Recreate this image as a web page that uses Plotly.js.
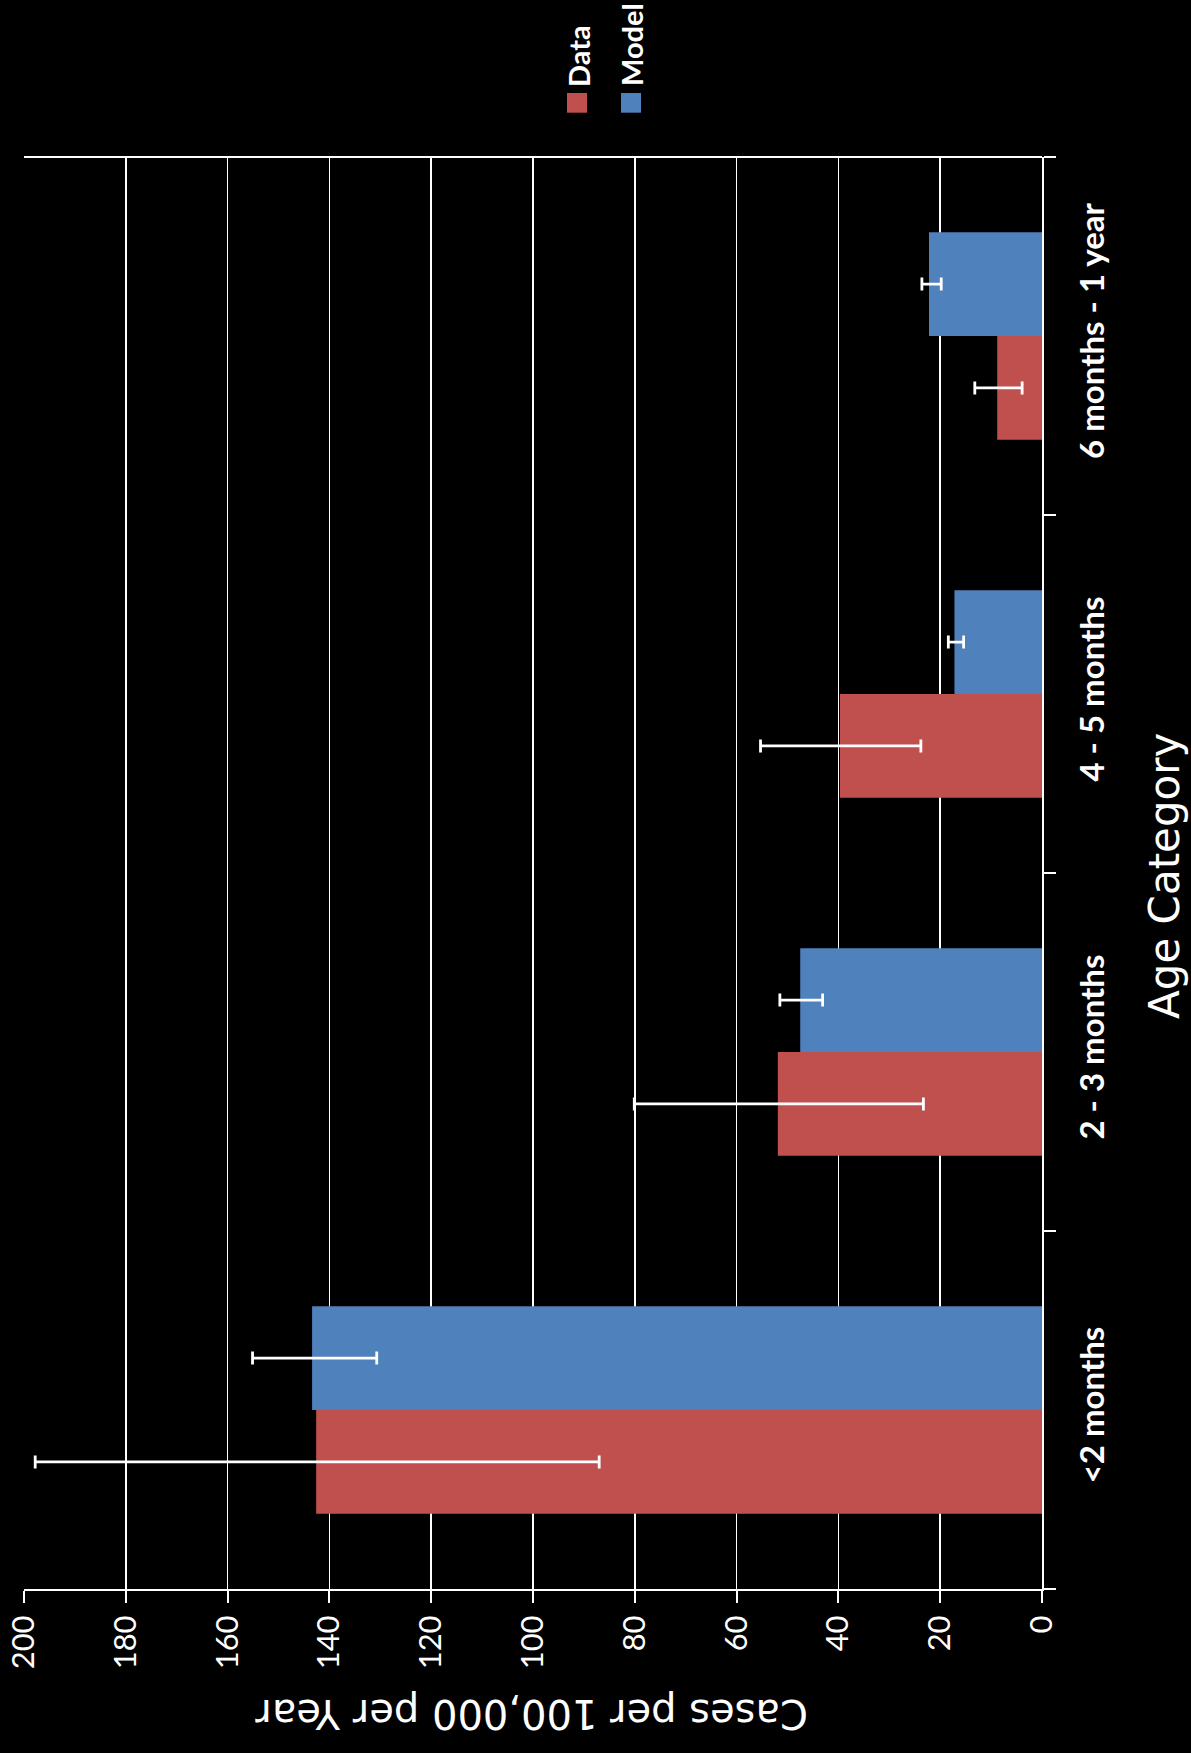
<!DOCTYPE html>
<html>
<head>
<meta charset="utf-8">
<script src="https://cdn.plot.ly/plotly-3.0.1.min.js"></script>
<style>
  html, body { margin: 0; padding: 0; background: #000; }
  #chart { width: 1191px; height: 1753px; }
</style>
</head>
<body>
<div id="chart"></div>
<script>
// Age categories (bottom to top)
const categories = ['<2 months', '2 - 3 months', '4 - 5 months', '6 months - 1 year'];

// Observed incidence with its interval
const dataValues = [142.6, 51.9, 39.7, 8.8];
const dataLower  = [87.0, 23.3, 23.8, 3.9];
const dataUpper  = [197.8, 80.1, 55.3, 13.2];

// Modelled incidence with its interval
const modelValues = [143.4, 47.5, 17.2, 22.2];
const modelLower  = [130.7, 43.1, 15.4, 19.8];
const modelUpper  = [155.1, 51.5, 18.4, 23.6];

const valueTicks = [0, 20, 40, 60, 80, 100, 120, 140, 160, 180, 200];

const W = 1191, H = 1753;
const M = { l: 24, r: 149, t: 157, b: 164 };
const plotW = W - M.l - M.r, plotH = H - M.t - M.b;
const px = x => (x - M.l) / plotW;
const py = y => (H - M.b - y) / plotH;

const RED = '#C0504D', BLUE = '#4F81BD';

function errBar(vals, lo, hi) {
  return {
    type: 'data', symmetric: false,
    array: hi.map((h, i) => h - vals[i]),
    arrayminus: lo.map((l, i) => vals[i] - l),
    color: '#ffffff', thickness: 2.8, width: 6.5, visible: true
  };
}

const traces = [
  {
    type: 'bar', orientation: 'h', name: 'Data',
    y: categories, x: dataValues,
    marker: { color: RED, line: { width: 0 } },
    error_x: errBar(dataValues, dataLower, dataUpper),
    hoverinfo: 'skip'
  },
  {
    type: 'bar', orientation: 'h', name: 'Model',
    y: categories, x: modelValues,
    marker: { color: BLUE, line: { width: 0 } },
    error_x: errBar(modelValues, modelLower, modelUpper),
    hoverinfo: 'skip'
  }
];

const legendItems = [
  { label: 'Data', color: RED, cx: 577, textCy: 56 },
  { label: 'Model', color: BLUE, cx: 631, textCy: 45 }
];

const shapes = [];
const annotations = [];

legendItems.forEach(it => {
  shapes.push({
    type: 'rect', xref: 'paper', yref: 'paper',
    x0: px(it.cx - 10), x1: px(it.cx + 10),
    y0: py(112.7), y1: py(93),
    fillcolor: it.color, line: { width: 0 }
  });
  annotations.push({
    text: '<b>' + it.label + '</b>', textangle: -90, showarrow: false,
    xref: 'paper', yref: 'paper', x: px(it.cx + 1), y: py(it.textCy),
    xanchor: 'center', yanchor: 'middle',
    font: { family: 'Lato, sans-serif', size: 29, color: '#ffffff' }
  });
});

// top border of the plot
shapes.push({
  type: 'line', xref: 'paper', yref: 'paper',
  x0: 0, x1: 1, y0: 1, y1: 1,
  line: { color: '#ffffff', width: 2 }
});

annotations.push({
  text: 'Cases per 100,000 per Year', textangle: 180, showarrow: false,
  xref: 'paper', yref: 'paper', x: px(531.5), y: py(1714),
  xanchor: 'center', yanchor: 'middle',
  font: { family: 'DejaVu Sans, sans-serif', size: 40, color: '#ffffff' }
});
annotations.push({
  text: 'Age Category', textangle: -90, showarrow: false,
  xref: 'paper', yref: 'paper', x: px(1164), y: py(876),
  xanchor: 'center', yanchor: 'middle',
  font: { family: 'DejaVu Sans, sans-serif', size: 42, color: '#ffffff' }
});

const layout = {
  width: W, height: H,
  margin: M,
  paper_bgcolor: '#000000', plot_bgcolor: '#000000',
  showlegend: false,
  barmode: 'group', bargap: 0.42, bargroupgap: 0,
  xaxis: {
    range: [200, 0], tickvals: valueTicks, ticktext: valueTicks.map(String),
    showgrid: true, gridcolor: '#ffffff', gridwidth: 1.6,
    showline: true, linecolor: '#ffffff', linewidth: 2,
    ticks: 'outside', ticklen: 12, tickwidth: 2, tickcolor: '#ffffff',
    tickangle: -90,
    tickfont: { family: 'Lato, sans-serif', size: 31, color: '#ffffff' },
    zeroline: false, fixedrange: true
  },
  yaxis: {
    type: 'category', categoryorder: 'array', categoryarray: categories,
    side: 'right', showgrid: false, zeroline: false,
    showline: true, linecolor: '#ffffff', linewidth: 2,
    ticks: 'outside', ticklen: 12, tickwidth: 2, tickcolor: '#ffffff',
    tickson: 'boundaries', tickangle: -90, ticklabelstandoff: 20,
    tickfont: { family: 'Lato, sans-serif', size: 33, color: '#ffffff', weight: 'bold' },
    fixedrange: true
  },
  shapes: shapes,
  annotations: annotations
};

Plotly.newPlot('chart', traces, layout, { staticPlot: true, displayModeBar: false });
</script>
</body>
</html>
